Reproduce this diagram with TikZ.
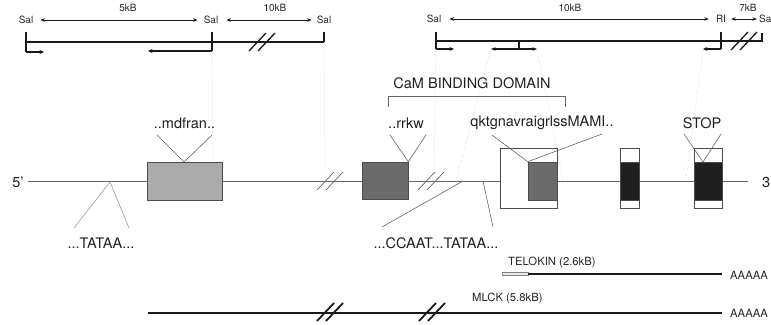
\documentclass[tikz,border=0pt]{standalone}
\usepackage{fontspec}
\setmainfont{TeX Gyre Heros}
\usetikzlibrary{arrows.meta}
\begin{document}
\begin{tikzpicture}[x=1pt,y=-1pt,
  maplin/.style={draw=black!90, line width=1.3pt},
  dimarrow/.style={draw=black!90, line width=0.8pt, {Stealth[length=4.5pt,width=3.5pt]}-{Stealth[length=4.5pt,width=3.5pt]}},
  onearrow/.style={draw=black!90, line width=1.3pt, -{Stealth[length=4.5pt,width=4pt]}},
  guide/.style={draw=black!30, dotted, line width=0.5pt},
  gene/.style={draw=black!60, line width=0.7pt},
  pointer/.style={draw=black!60, line width=0.6pt},
  exonbox/.style={draw=black!70, line width=0.6pt},
  big/.style={font=\fontsize{14.5}{15}\selectfont, text=black!88, inner sep=0pt},
  small/.style={font=\fontsize{10}{10}\selectfont, text=black!85, inner sep=0pt},
  mid/.style={font=\fontsize{11.3}{12}\selectfont, text=black!85, inner sep=0pt},
  brk/.pic={\draw[pic actions] (-13,9) -- (4,-9) (-4,9) -- (13,-9);}
]
\useasboundingbox (0,0) rectangle (771,324);

% ---------- left restriction map ----------
\node[small] (sal1) at (26,20) {Sal};
\node[small] (sal2) at (211,20) {Sal};
\node[small] (sal3) at (324,20) {Sal};
\node[small] (kb5) at (128,8) {5kB};
\node[small] (kb10a) at (275,8) {10kB};
\draw[dimarrow] ([xshift=7pt]sal1.east) -- ([xshift=-6pt]sal2.west);
\draw[dimarrow] ([xshift=8pt]sal2.east) -- ([xshift=-5pt]sal3.west);
\coordinate (l1t) at (26,32); \coordinate (l1b) at (26,52); \coordinate (l1a) at (44,52);
\coordinate (l2t) at (212,32); \coordinate (l2b) at (212,51); \coordinate (l2a) at (148,51);
\coordinate (l3t) at (324,32); \coordinate (l3b) at (324,42);
\coordinate (lm0) at (26,42); \coordinate (lm1) at (324,42);
\draw[maplin] (lm0) -- (lm1);
\draw[maplin] (l1t) -- (l1b);
\draw[onearrow] (l1b) -- (l1a);
\draw[maplin] (l2t) -- (l2b);
\draw[onearrow] (l2b) -- (l2a);
\draw[maplin] (l3t) -- (l3b);
\pic[draw=black!90, line width=1.3pt] at (262,42) {brk};

% ---------- right restriction map ----------
\node[small] (sal4) at (434,19) {Sal};
\node[small] (ri) at (721,19) {RI};
\node[small, anchor=west] (sal5) at (759,19) {Sa};
\node[small] (kb10b) at (570,8) {10kB};
\node[small] (kb7) at (748,8) {7kB};
\draw[dimarrow] ([xshift=8pt]sal4.east) -- ([xshift=-7pt]ri.west);
\draw[dimarrow] ([xshift=5pt]ri.east) -- ([xshift=-2pt]sal5.west);
\coordinate (r1t) at (436,32); \coordinate (r1b) at (436,49); \coordinate (r1a) at (454,49);
\coordinate (rm0) at (436,41); \coordinate (rm1) at (762,41); \coordinate (rm2) at (762,33);
\coordinate (rdl) at (491,49); \coordinate (rdr) at (537,49);
\coordinate (rdc) at (519,49); \coordinate (rdt) at (519,41);
\coordinate (r2t) at (721,32); \coordinate (r2b) at (721,49); \coordinate (r2a) at (703,49);
\draw[maplin] (rm0) -- (rm1) -- (rm2);
\draw[maplin] (r1t) -- (r1b);
\draw[onearrow] (r1b) -- (r1a);
\draw[dimarrow, line width=1.3pt] (rdl) -- (rdr);
\draw[maplin] (rdc) -- (rdt);
\draw[maplin] (r2t) -- (r2b);
\draw[onearrow] (r2b) -- (r2a);
\pic[draw=black!90, line width=1.3pt] at (744,41) {brk};

% ---------- gene ----------
\coordinate (g0) at (28,181); \coordinate (g1) at (748,181);
\draw[gene] (g0) -- (g1);
\node[big] (five) at (18,182) {5'};
\node[big, anchor=west] (three) at (762,182) {3};
\pic[gene] at (330,181) {brk};
\pic[gene] at (431,181) {brk};

% guides
\coordinate (ga1) at (213,162); \coordinate (ga2) at (325,172);
\coordinate (ga3) at (434,172); \coordinate (ga4) at (456,180);
\coordinate (ga5) at (563,180); \coordinate (ga6) at (686,180);
\draw[guide] (l2b) -- (ga1);
\draw[guide] (l3b) -- (ga2);
\draw[guide] (r1b) -- (ga3);
\draw[guide] (rdl) -- (ga4);
\draw[guide] (rdr) -- (ga5);
\draw[guide] (r2a) -- (ga6);

% exons
\node[exonbox, fill=black!33, minimum width=75pt, minimum height=38pt, inner sep=0pt] (e1) at (184.5,181) {};
\node[exonbox, fill=black!58, minimum width=46pt, minimum height=37pt, inner sep=0pt] (e2) at (385,180.5) {};
\node[exonbox, fill=white, minimum width=57pt, minimum height=60pt, inner sep=0pt] (e3o) at (528.5,178) {};
\node[exonbox, fill=black!58, minimum width=29pt, minimum height=38pt, inner sep=0pt] (e3) at (542.5,181) {};
\node[exonbox, fill=white, minimum width=19pt, minimum height=60pt, inner sep=0pt] (e4o) at (629.5,178) {};
\node[exonbox, fill=black!88, minimum width=19pt, minimum height=38pt, inner sep=0pt] (e4) at (629.5,181) {};
\node[exonbox, fill=white, minimum width=28pt, minimum height=60pt, inner sep=0pt] (e5o) at (708,178) {};
\node[exonbox, fill=black!88, minimum width=28pt, minimum height=38pt, inner sep=0pt] (e5) at (708,181) {};

% labels above exons
\node[big] (mdfran) at (184.5,123) {..mdfran..};
\node[big] (rrkw) at (406,123) {..rrkw};
\node[big] (qktg) at (542,123) {qktgnavraigrlssMAMI..};
\node[big] (stop) at (702,123) {STOP};
\node[big] (cam) at (472,83) {CaM BINDING DOMAIN};
\coordinate (bl) at (388,107); \coordinate (blt) at (388,96);
\coordinate (brt) at (565,96); \coordinate (br) at (565,107);
\draw[pointer] (bl) -- (blt) -- (brt) -- (br);

\coordinate (p1a) at (157,135); \coordinate (p1b) at (212,135); \coordinate (p1c) at (184,162);
\draw[pointer] (p1a) -- (p1c) -- (p1b);
\coordinate (p2a) at (390,135); \coordinate (p2b) at (426,135);
\draw[pointer] (p2a) -- (e2.north east) -- (p2b);
\coordinate (p3a) at (492,135); \coordinate (p3b) at (602,134);
\draw[pointer] (p3a) -- (e3.north west) -- (p3b);
\coordinate (p5a) at (684,134); \coordinate (p5b) at (721,134); \coordinate (p5c) at (703,162);
\draw[pointer] (p5a) -- (p5c) -- (p5b);

% promoter labels
\coordinate (t0) at (110,182); \coordinate (t1) at (74,228); \coordinate (t2) at (129,228);
\draw[pointer, draw=black!40] (t1) -- (t0) -- (t2);
\node[big] (tataa) at (101,243) {...TATAA...};
\coordinate (c0) at (463,181); \coordinate (c1) at (382,227);
\coordinate (c2) at (483,181); \coordinate (c3) at (493,227);
\draw[pointer] (c0) -- (c1);
\draw[pointer] (c2) -- (c3);
\node[big] (ccaat) at (436,243) {...CCAAT...TATAA...};

% transcripts
\node[mid, anchor=west] (telo) at (508,262) {TELOKIN (2.6kB)};
\node[draw=black!50, fill=black!8, line width=0.6pt, minimum width=26pt, minimum height=3pt, inner sep=0pt] (tlg) at (515,274) {};
\coordinate (tl2) at (722,274);
\draw[draw=black!90, line width=2.2pt] (tlg.east) -- (tl2);
\node[mid, anchor=west] (aa1) at (730,275) {AAAAA};

\node[mid, anchor=west] (mlck) at (472,298) {MLCK (5.8kB)};
\coordinate (ml0) at (148,313); \coordinate (ml1) at (722,313);
\draw[draw=black!90, line width=2.2pt] (ml0) -- (ml1);
\pic[draw=black!90, line width=1.8pt] at (330,312) {brk};
\pic[draw=black!90, line width=1.8pt] at (432,312) {brk};
\node[mid, anchor=west] (aa2) at (730,313) {AAAAA};
\end{tikzpicture}
\end{document}
